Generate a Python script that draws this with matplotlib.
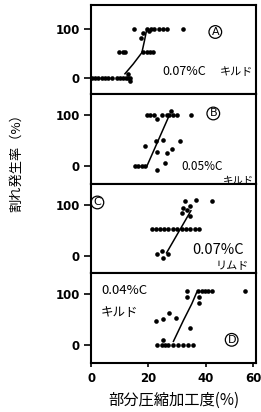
import numpy as np
import matplotlib.pyplot as plt

plt.rcParams['font.family'] = ['Noto Sans CJK JP', 'DejaVu Sans']

# 各パネルのデータ (部分圧縮加工度 %, 割れ発生率 %)
a_x = [15.1, 19.4, 20.2, 20.9, 22.0, 23.7, 25.2, 26.6, 31.9, 18.2, 17.3,
       9.9, 11.0, 11.8, 18.2, 19.4, 20.6, 21.7,
       0.2, 1.4, 2.5, 3.7, 4.9, 6.0, 7.2, 8.9, 10.1, 11.0, 12.2, 13.0, 13.6, 12.8, 13.4]
a_y = [100, 100, 95, 100, 100, 100, 100, 100, 100, 90, 80,
       52, 52, 52, 52, 52, 52, 52,
       0, 0, 0, 0, 0, 0, 0, 0, 0, 0, 0, 0, 0, 7, -6]
a_cx = [11.8, 14.7, 17.7, 18.6, 19.4]
a_cy = [8, 28, 51, 75, 98]

b_x = [19.4, 20.6, 22.0, 23.1, 24.6, 26.4, 27.3, 27.8, 28.7, 29.9, 34.8,
       22.6, 25.2, 31.0, 18.8, 22.9, 26.4, 28.1, 25.8, 22.9,
       15.3, 16.5, 17.7, 18.8]
b_y = [100, 100, 100, 92, 100, 100, 100, 107, 100, 100, 100,
       49, 51, 49, 39, 28, 26, 33, 6, -6,
       0, 0, 0, 0]
b_cx = [19.4, 27.3]
b_cy = [0, 100]

c_x = [32.8, 36.6, 42.0, 32.2, 33.3, 34.5, 31.6, 34.5,
       21.1, 22.6, 24.0, 25.4, 26.9, 28.5, 29.9, 31.6, 33.1, 34.5, 36.2, 37.7,
       22.9, 24.6, 25.0, 26.9]
c_y = [106, 108, 106, 94, 89, 97, 84, 78,
       52, 52, 52, 52, 52, 52, 52, 52, 52, 52, 52, 52,
       4, 10, -3, 4]
c_cx = [26.3, 34.8]
c_cy = [6, 88]

d_x = [33.3, 37.4, 38.6, 39.7, 40.9, 42.1, 53.7, 33.3, 37.7, 37.7,
       22.6, 25.2, 27.3, 29.6, 34.5,
       23.1, 24.6, 25.8, 26.9, 28.7, 30.4, 32.1, 33.9, 35.6, 25.0]
d_y = [106, 106, 106, 106, 106, 106, 106, 94, 94, 82,
       48, 51, 63, 54, 34,
       0, 0, 0, 0, 0, 0, 0, 0, 0, 11]
d_cx = [28.7, 32.2, 35.1, 36.8]
d_cy = [8, 49, 81, 103]

fig = plt.figure(figsize=(2.61, 4.12), dpi=100)
axs = fig.subplots(4, 1, sharex=True, gridspec_kw=dict(hspace=0))
fig.subplots_adjust(left=0.349, right=0.981, top=0.988, bottom=0.119)

panels = [(a_x, a_y, a_cx, a_cy), (b_x, b_y, b_cx, b_cy),
          (c_x, c_y, c_cx, c_cy), (d_x, d_y, d_cx, d_cy)]
for ax, (px, py, cx, cy) in zip(axs, panels):
    ax.scatter(px, py, s=11, c='k', zorder=3, linewidths=0)
    ax.plot(cx, cy, c='k', lw=1.1)
    ax.set_xlim(0, 57.5)
    ax.set_ylim(-34, 140)
    ax.set_yticks([0, 100])
    ax.set_yticklabels(['0', '100'], fontsize=8.5, fontweight='bold', family='DejaVu Sans')
    ax.tick_params(axis='y', direction='out', length=5, width=1.2, pad=3)
    ax.tick_params(axis='x', direction='out', length=3, width=1.2)
    for s in ax.spines.values():
        s.set_linewidth(1.5)
axs[0].set_ylim(-34, 148)

def circ(ax, x, y, t):
    ax.text(x, y, t, fontsize=8, ha='center', va='center', family='DejaVu Sans',
            bbox=dict(boxstyle='circle,pad=0.12', fc='none', ec='k', lw=0.9))

axs[0].text(25, 12, '0.07%C', fontsize=9, ha='left', va='center')
axs[0].text(45, 12, 'キルド', fontsize=8, ha='left', va='center')
circ(axs[0], 43.3, 93, 'A')
axs[1].text(31.5, 0, '0.05%C', fontsize=8.5, ha='left', va='center')
axs[1].text(46, -28, 'キルド', fontsize=7.5, ha='left', va='center')
circ(axs[1], 42.6, 103, 'B')
axs[2].text(35.3, 12, '0.07%C', fontsize=10.5, ha='left', va='center')
axs[2].text(43.5, -20, 'リムド', fontsize=8, ha='left', va='center')
circ(axs[2], 2.2, 104, 'C')
axs[3].text(3.5, 106, '0.04%C', fontsize=9.5, ha='left', va='center')
axs[3].text(3.5, 64, 'キルド', fontsize=9, ha='left', va='center')
circ(axs[3], 49, 11, 'D')

axs[3].set_xticks([0, 20, 40, 56.5])
axs[3].set_xticklabels(['0', '20', '40', '60'], fontsize=8.5, fontweight='bold', family='DejaVu Sans')
axs[3].set_xlabel('部分圧縮加工度(%)', fontsize=11, labelpad=5)
fig.text(0.065, 0.612, '割れ発生率（%）', rotation=90, ha='center', va='center', fontsize=9.5)

fig.savefig('out.png', dpi=100)
